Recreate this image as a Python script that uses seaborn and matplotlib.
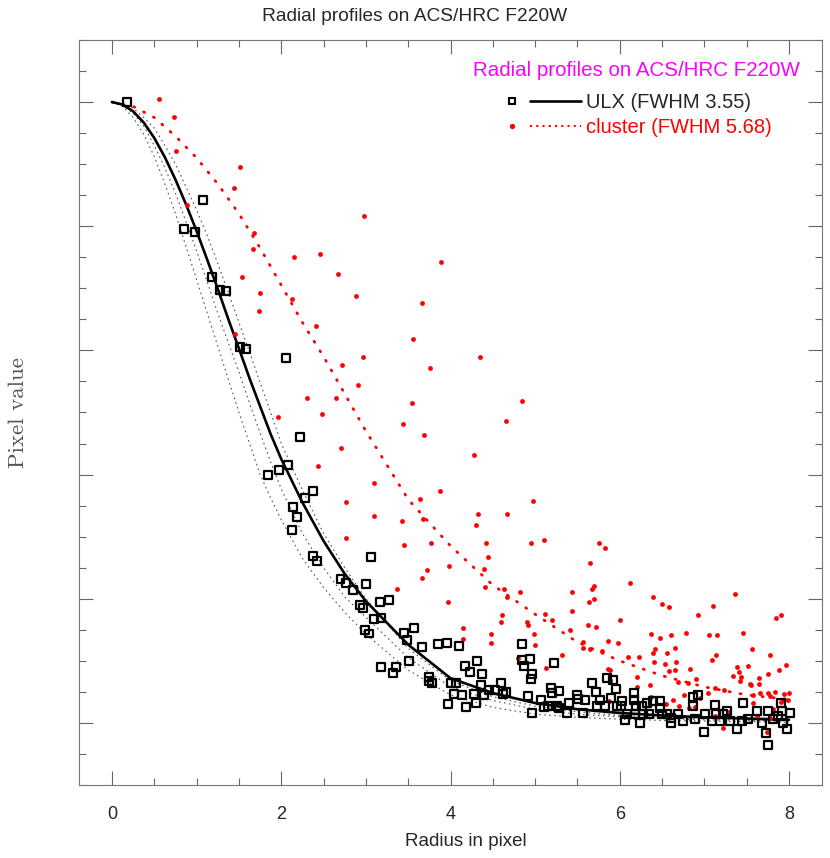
import matplotlib
matplotlib.use("Agg")
import matplotlib.pyplot as plt
import seaborn as sns
from matplotlib.lines import Line2D
from matplotlib.legend_handler import HandlerBase
from matplotlib.ticker import MultipleLocator

# ULX pixels (radius, normalised pixel value)
ulx_r = [0.18, 0.85, 0.98, 1.08, 1.18, 1.28, 1.35, 1.51, 1.58, 2.06, 2.22, 1.84, 1.97, 2.08,
         2.38, 2.28, 2.14, 2.19, 2.13, 2.38, 2.42, 3.06, 2.70, 2.77, 2.85, 3.00, 2.93, 2.97,
         3.17, 3.27, 3.09, 3.18, 2.99, 3.04, 3.45, 3.57, 3.49, 3.66, 3.51, 3.85, 3.96, 4.10,
         3.18, 3.35, 3.32, 3.75, 3.74, 3.78, 4.00, 4.07, 4.17, 4.23, 4.31, 4.37, 4.04, 4.14,
         3.97, 4.18, 4.30, 4.28, 4.36, 4.40, 4.46, 4.53, 4.60, 4.62, 4.66, 4.85, 4.85, 4.94,
         4.87, 4.96, 4.95, 5.22, 4.92, 4.96, 5.07, 5.10, 5.15, 5.19, 5.20, 5.28, 5.26, 5.28,
         5.38, 5.40, 5.50, 5.51, 5.57, 5.59, 5.67, 5.72, 5.77, 5.73, 5.82, 5.85, 5.92, 5.95,
         5.90, 6.03, 5.97, 6.02, 6.09, 6.06, 6.17, 6.17, 6.19, 6.26, 6.32, 6.24, 6.34, 6.28,
         6.18, 6.39, 6.48, 6.47, 6.50, 6.56, 6.60, 6.60, 6.69, 6.75, 6.86, 6.93, 6.86, 6.89,
         7.00, 7.01, 7.09, 7.12, 7.14, 7.18, 7.22, 7.27, 7.30, 7.39, 7.45, 7.46, 7.52, 7.62,
         7.68, 7.73, 7.75, 7.75, 7.81, 7.90, 7.92, 7.98, 8.01, 7.93, 7.87]
ulx_v = [1.000, 0.795, 0.790, 0.842, 0.718, 0.697, 0.695, 0.605, 0.602, 0.587, 0.461, 0.400, 0.408, 0.415,
         0.373, 0.363, 0.348, 0.331, 0.310, 0.269, 0.260, 0.268, 0.232, 0.226, 0.214, 0.223, 0.190, 0.185,
         0.195, 0.198, 0.168, 0.169, 0.150, 0.144, 0.145, 0.153, 0.134, 0.123, 0.100, 0.127, 0.129, 0.124,
         0.090, 0.090, 0.080, 0.074, 0.068, 0.065, 0.065, 0.065, 0.092, 0.082, 0.099, 0.079, 0.047, 0.045,
         0.030, 0.026, 0.032, 0.047, 0.061, 0.045, 0.053, 0.053, 0.065, 0.047, 0.050, 0.127, 0.102, 0.103,
         0.092, 0.079, 0.071, 0.097, 0.044, 0.016, 0.037, 0.026, 0.027, 0.056, 0.048, 0.052, 0.027, 0.024,
         0.016, 0.032, 0.045, 0.039, 0.016, 0.037, 0.065, 0.050, 0.037, 0.027, 0.027, 0.073, 0.069, 0.055,
         0.040, 0.035, 0.027, 0.027, 0.015, 0.005, 0.048, 0.037, 0.027, 0.027, 0.032, 0.000, 0.015, 0.015,
         0.015, 0.035, 0.035, 0.024, 0.015, 0.015, 0.000, 0.008, 0.015, 0.003, 0.042, 0.045, 0.027, 0.006,
         -0.015, 0.015, 0.003, 0.029, 0.015, 0.003, 0.015, 0.019, 0.003, -0.010, 0.003, 0.032, 0.006, 0.019,
         0.000, -0.016, -0.035, 0.019, 0.006, 0.032, 0.019, -0.010, 0.016, 0.000, 0.011]

# cluster pixels
cl_r = [0.56, 0.73, 0.76, 1.51, 1.44, 0.89, 1.68, 1.67, 2.15, 2.46, 1.54, 1.75, 2.13, 1.74,
        2.41, 1.45, 2.98, 3.89, 2.67, 2.88, 3.66, 3.56, 4.35, 2.72, 2.97, 3.76, 2.91, 2.30,
        2.65, 3.55, 4.85, 1.96, 2.48, 3.44, 4.66, 3.69, 2.71, 4.28, 2.43, 3.10, 3.88, 4.98,
        2.77, 3.64, 3.10, 3.43, 3.68, 2.77, 3.45, 3.72, 3.66, 3.37, 4.33, 4.67, 4.30, 3.77,
        4.42, 4.44, 3.98, 4.40, 4.41, 4.63, 4.95, 5.10, 4.82, 4.67, 5.44, 3.97, 4.61, 4.60,
        4.90, 4.92, 5.12, 5.20, 5.43, 5.41, 4.15, 4.15, 4.48, 4.48, 4.99, 5.00, 5.32, 4.80,
        5.13, 5.76, 5.82, 5.65, 6.12, 5.70, 5.67, 5.69, 5.64, 6.39, 6.50, 6.58, 7.36, 7.10,
        6.00, 6.93, 7.85, 7.91, 5.63, 5.72, 6.37, 6.60, 6.78, 7.06, 7.15, 7.46, 6.48, 5.86,
        5.98, 5.57, 5.57, 5.65, 5.79, 6.65, 6.42, 6.39, 6.56, 7.56, 7.78, 6.10, 6.23, 6.67,
        6.41, 6.54, 7.09, 7.14, 7.96, 7.88, 5.86, 5.89, 6.65, 6.58, 6.83, 7.38, 7.41, 7.52,
        7.75, 7.34, 7.43, 7.65, 6.20, 5.89, 5.89, 6.90, 6.69, 6.81, 7.42, 7.54, 7.55, 7.64,
        6.36, 6.20, 7.13, 7.23, 7.04, 7.66, 7.75, 7.83, 7.94, 8.00, 6.76, 6.95, 7.57, 7.77,
        7.99, 7.94, 6.37, 6.63, 7.57, 7.90, 5.87, 6.55, 6.70, 6.82, 6.89, 7.29, 7.62, 7.77,
        7.13, 7.81, 7.22, 7.74]
cl_v = [1.005, 0.976, 0.921, 0.895, 0.861, 0.834, 0.789, 0.763, 0.750, 0.755, 0.718, 0.692, 0.682, 0.663,
        0.640, 0.627, 0.816, 0.742, 0.723, 0.687, 0.676, 0.619, 0.590, 0.576, 0.589, 0.571, 0.545, 0.524,
        0.523, 0.515, 0.518, 0.492, 0.498, 0.482, 0.486, 0.463, 0.442, 0.432, 0.413, 0.387, 0.374, 0.358,
        0.356, 0.360, 0.334, 0.326, 0.329, 0.298, 0.287, 0.247, 0.234, 0.216, 0.337, 0.337, 0.318, 0.290,
        0.289, 0.268, 0.252, 0.248, 0.219, 0.216, 0.290, 0.295, 0.211, 0.203, 0.211, 0.194, 0.173, 0.163,
        0.163, 0.158, 0.176, 0.166, 0.181, 0.150, 0.153, 0.135, 0.144, 0.129, 0.144, 0.126, 0.110, 0.105,
        0.089, 0.289, 0.281, 0.258, 0.226, 0.221, 0.215, 0.200, 0.194, 0.202, 0.192, 0.186, 0.208, 0.189,
        0.166, 0.173, 0.169, 0.173, 0.158, 0.155, 0.144, 0.142, 0.145, 0.142, 0.142, 0.145, 0.137, 0.132,
        0.129, 0.131, 0.121, 0.119, 0.116, 0.121, 0.119, 0.113, 0.113, 0.119, 0.110, 0.106, 0.106, 0.098,
        0.098, 0.095, 0.102, 0.110, 0.094, 0.085, 0.087, 0.085, 0.085, 0.084, 0.087, 0.090, 0.082, 0.092,
        0.079, 0.076, 0.074, 0.073, 0.074, 0.069, 0.066, 0.071, 0.066, 0.065, 0.068, 0.063, 0.061, 0.063,
        0.061, 0.058, 0.056, 0.053, 0.048, 0.048, 0.048, 0.050, 0.047, 0.048, 0.045, 0.040, 0.045, 0.044,
        0.037, 0.037, 0.042, 0.037, 0.032, 0.034, 0.035, 0.031, 0.027, 0.024, 0.026, 0.018, 0.011, 0.008,
        0.011, 0.023, -0.008, -0.015]

# fitted ULX profile and its envelope
fit_r = [0, 0.125, 0.25, 0.375, 0.5, 0.625, 0.75, 0.875, 1.0, 1.125, 1.25, 1.375, 1.5, 1.625,
         1.75, 1.875, 2.0, 2.25, 2.5, 2.75, 3.0, 3.5, 4.0, 4.5, 5.0, 5.5, 6.0, 6.5, 7.0, 7.5, 8.0]
ulx_fit = [1.0, 0.996, 0.985, 0.967, 0.942, 0.911, 0.875, 0.835, 0.792, 0.746, 0.699, 0.650, 0.603, 0.555,
           0.510, 0.465, 0.425, 0.355, 0.293, 0.240, 0.196, 0.126, 0.072, 0.048, 0.032, 0.022, 0.016,
           0.012, 0.009, 0.007, 0.005]
ulx_lo1 = [1.0, 0.993, 0.975, 0.948, 0.912, 0.868, 0.820, 0.767, 0.714, 0.660, 0.607, 0.553, 0.500, 0.450,
           0.400, 0.362, 0.327, 0.265, 0.218, 0.178, 0.143, 0.085, 0.045, 0.025, 0.014, 0.009, 0.006,
           0.004, 0.003, 0.002, 0.001]
ulx_lo2 = [1.0, 0.995, 0.982, 0.961, 0.930, 0.894, 0.853, 0.807, 0.760, 0.710, 0.660, 0.612, 0.565, 0.515,
           0.467, 0.420, 0.377, 0.305, 0.250, 0.203, 0.170, 0.105, 0.058, 0.036, 0.022, 0.014, 0.010,
           0.007, 0.005, 0.004, 0.003]
ulx_hi = [1.0, 0.997, 0.990, 0.975, 0.958, 0.930, 0.900, 0.863, 0.826, 0.785, 0.740, 0.693, 0.645, 0.597,
          0.548, 0.500, 0.450, 0.375, 0.305, 0.250, 0.200, 0.120, 0.068, 0.042, 0.027, 0.018, 0.012,
          0.009, 0.007, 0.005, 0.004]

# fitted cluster profile
cl_fit_r = [0, 0.25, 0.5, 0.75, 1.0, 1.25, 1.5, 1.75, 2.0, 2.25, 2.5, 2.75, 3.0,
            3.5, 4.0, 4.5, 5.0, 5.5, 6.0, 6.5, 7.0, 7.5, 8.0]
cl_fit = [1.0, 0.993, 0.975, 0.945, 0.91, 0.868, 0.82, 0.765, 0.705, 0.645, 0.59, 0.53, 0.47,
          0.36, 0.285, 0.222, 0.175, 0.13, 0.10, 0.076, 0.058, 0.045, 0.038]


class MarkerThenLine(HandlerBase):
    # marker on the left, short line segment to its right
    def create_artists(self, legend, orig_handle, xdescent, ydescent, width, height, fontsize, trans):
        mk, ln = orig_handle
        y = height / 2 - ydescent
        m = Line2D([-xdescent + 0.08 * width], [y])
        m.update_from(mk)
        l = Line2D([-xdescent + 0.32 * width, -xdescent + width], [y, y])
        l.update_from(ln)
        m.set_transform(trans)
        l.set_transform(trans)
        return [l, m]


sns.set_style("ticks")
plt.rcParams['font.family'] = ['Liberation Sans', 'DejaVu Sans']

fig = plt.figure(figsize=(8.3, 8.58), dpi=100)
ax = fig.add_axes([0.0952, 0.0851, 0.8952, 0.8683])

for band in [ulx_lo1, ulx_lo2, ulx_hi]:
    sns.lineplot(x=fit_r, y=band, ax=ax, color='#555555', lw=0.8,
                 linestyle=(0, (1.5, 3)), sort=False, estimator=None)
sns.lineplot(x=cl_fit_r, y=cl_fit, ax=ax, color='red', lw=2.0,
             linestyle=(0, (0.4, 3.6)), dash_capstyle='round', sort=False, estimator=None)
sns.lineplot(x=fit_r, y=ulx_fit, ax=ax, color='black', lw=1.9, sort=False, estimator=None)

sns.scatterplot(x=cl_r, y=cl_v, ax=ax, color='red', s=12, linewidth=0, zorder=3)
sns.scatterplot(x=ulx_r, y=ulx_v, ax=ax, marker='s', s=33, facecolor='none',
                edgecolor='black', linewidth=1.6, zorder=4)

ax.set_xlim(-0.39, 8.39)
ax.set_ylim(-0.1, 1.1)
ax.xaxis.set_major_locator(MultipleLocator(2))
ax.xaxis.set_minor_locator(MultipleLocator(0.5))
ax.yaxis.set_major_locator(MultipleLocator(0.2))
ax.yaxis.set_minor_locator(MultipleLocator(0.05))
ax.tick_params(which='both', direction='in', top=True, right=True, color='#666666', width=0.8)
ax.tick_params(which='major', length=10)
ax.tick_params(which='minor', length=5)
ax.tick_params(axis='x', labelsize=13, pad=15)
ax.tick_params(axis='y', labelleft=False)
for sp in ax.spines.values():
    sp.set_visible(True)
    sp.set_color('#777777')
    sp.set_linewidth(0.8)

ax.set_xlabel('Radius in pixel', fontsize=13.5)
ax.xaxis.set_label_coords(0.52, -0.064)
ax.set_ylabel('Pixel value', fontsize=16.5, family='cmr10', color='#555555')
ax.yaxis.set_label_coords(-0.068, 0.5)
fig.suptitle('Radial profiles on ACS/HRC F220W', fontsize=13.8, y=0.981, va='center')

ax.text(0.9704, 0.9597, 'Radial profiles on ACS/HRC F220W', color='magenta', fontsize=14.8,
        ha='right', va='center', transform=ax.transAxes)
h_ulx = (Line2D([], [], marker='s', ls='none', mfc='none', mec='black', ms=5, mew=1.5),
         Line2D([], [], color='black', lw=1.9))
h_cl = (Line2D([], [], marker='o', ls='none', color='red', mec='red', ms=2.8),
        Line2D([], [], color='red', lw=1.5, ls=(0, (1, 2))))
leg = ax.legend([h_ulx, h_cl], ['ULX (FWHM 3.55)', 'cluster (FWHM 5.68)'],
                handler_map={tuple: MarkerThenLine()},
                fontsize=14.5, frameon=False, loc='upper left',
                bbox_to_anchor=(0.575, 0.929), handlelength=3.7, handletextpad=0.25,
                labelspacing=0.3, borderpad=0.0, borderaxespad=0.0)
leg.get_texts()[1].set_color('red')

fig.savefig('out.png', dpi=100)
